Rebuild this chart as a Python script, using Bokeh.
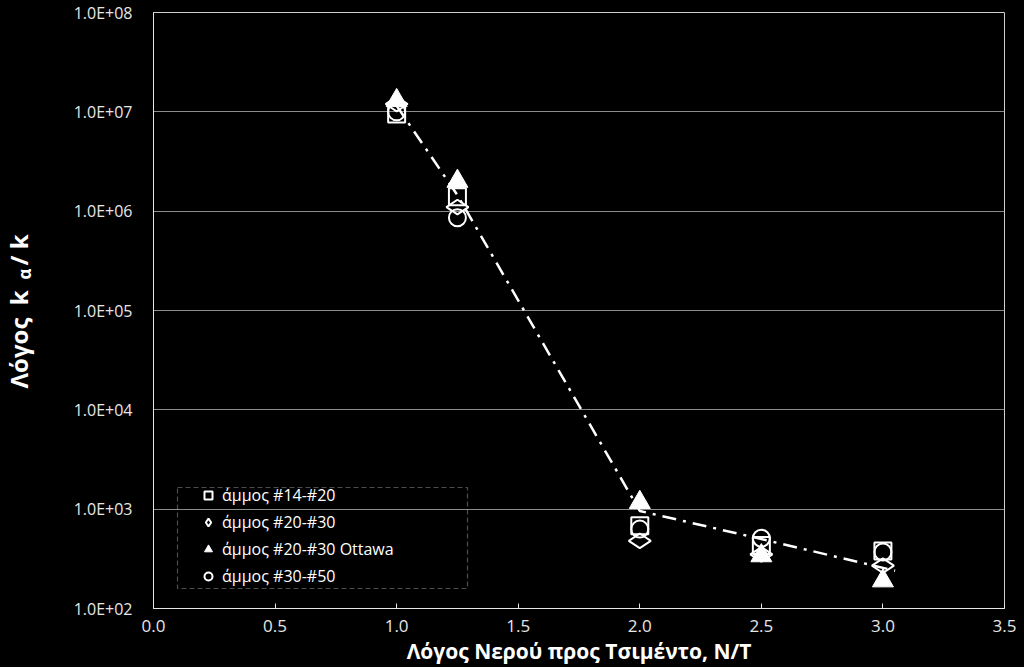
import math
from bokeh.plotting import figure
from bokeh.layouts import row
from bokeh.models import (FixedTicker, NumeralTickFormatter, Legend, LegendItem,
                          Label, BoxAnnotation, Range1d)
from bokeh.embed import file_html
from bokeh.resources import INLINE

# ---- data ----
wc_ratio = [1.0, 1.25, 2.0, 2.5, 3.0]
sand_14_20 = [9.5e6, 1.4e6, 680, 430, 380]
sand_20_30 = [1.2e7, 1.1e6, 480, 350, 270]
sand_20_30_ottawa = [1.3e7, 2.0e6, 1170, 340, 190]
sand_30_50 = [1.0e7, 8.6e5, 630, 510, 370]
fit_x = [1.0, 1.25, 2.0, 2.5, 3.05]
fit_y = [1.15e7, 1.45e6, 960, 500, 240]
series_names = ["άμμος #14-#20", "άμμος #20-#30", "άμμος #20-#30 Ottawa", "άμμος #30-#50"]
y_ticks = [100, 1000, 10000, 100000, 1000000, 10000000, 100000000]
y_tick_labels = ["1.0E+02", "1.0E+03", "1.0E+04", "1.0E+05", "1.0E+06", "1.0E+07", "1.0E+08"]
x_ticks = [0.0, 0.5, 1.0, 1.5, 2.0, 2.5, 3.0, 3.5]
x_label = "Λόγος Νερού προς Τσιμέντο, Ν/Τ"
y_label_parts = ["Λόγος\u00a0\u00a0k", "α", "/\u00a0k"]

FONT = "Open Sans"
WHITE = "#ffffff"
LGRAY = "#e6e6e6"
LAB_W = 60

# ---- narrow panel carrying the y-axis title (with subscript) ----
lab = figure(width=LAB_W, height=667, x_range=Range1d(0, 1), y_range=Range1d(0, 1),
             output_backend="svg", toolbar_location=None,
             x_axis_location=None, y_axis_location=None,
             min_border=0)
lab.outline_line_color = None
lab.grid.visible = False
lab.background_fill_color = None
lab.border_fill_color = "black"
lab_kw = dict(x_units="screen", y_units="screen", angle=math.pi / 2,
              text_color=WHITE, text_font=FONT, text_font_style="bold",
              text_align="left", text_baseline="alphabetic")
lab.add_layout(Label(x=18, y=220, text=y_label_parts[0], text_font_size="24px", **lab_kw))
lab.add_layout(Label(x=24, y=329, text=y_label_parts[1], text_font_size="17px", **lab_kw))
lab.add_layout(Label(x=18, y=343, text=y_label_parts[2], text_font_size="24px", **lab_kw))

# ---- main chart ----
p = figure(width=1024 - LAB_W, height=667, y_axis_type="log",
           x_range=Range1d(0, 3.5), y_range=Range1d(1e2, 1e8),
           output_backend="svg", toolbar_location=None,
           min_border_left=153 - LAB_W, min_border_right=20, min_border_top=12,
           min_border_bottom=50)
p.background_fill_color = "black"
p.border_fill_color = "black"
p.outline_line_color = "#d0d0d0"
p.outline_line_width = 1

p.xgrid.grid_line_color = None
p.ygrid.grid_line_color = "#8c8c8c"
p.ygrid.grid_line_width = 1

# x axis
p.xaxis.ticker = FixedTicker(ticks=x_ticks)
p.xaxis.formatter = NumeralTickFormatter(format="0.0")
p.xaxis.major_tick_in = 5
p.xaxis.major_tick_out = 0
p.xaxis.minor_tick_line_color = None
p.xaxis.major_tick_line_color = LGRAY
p.xaxis.axis_line_color = LGRAY
p.xaxis.major_label_text_color = LGRAY
p.xaxis.major_label_text_font = FONT
p.xaxis.major_label_text_font_size = "17px"
p.xaxis.major_label_standoff = 11
p.xaxis.axis_label = x_label
p.xaxis.axis_label_text_font = FONT
p.xaxis.axis_label_text_font_style = "bold"
p.xaxis.axis_label_text_font_size = "21px"
p.xaxis.axis_label_text_color = WHITE
p.xaxis.axis_label_standoff = 2

# y axis
p.yaxis.ticker = FixedTicker(ticks=y_ticks)
p.yaxis.major_label_overrides = {t: l for t, l in zip(y_ticks, y_tick_labels)}
p.yaxis.major_tick_line_color = None
p.yaxis.minor_tick_line_color = None
p.yaxis.axis_line_color = LGRAY
p.yaxis.major_label_text_color = LGRAY
p.yaxis.major_label_text_font = FONT
p.yaxis.major_label_text_font_size = "16px"
p.yaxis.major_label_standoff = 15

# fitted dash-dot line
p.line(fit_x, fit_y, line_color=WHITE, line_width=2.5, line_dash="14 7 3 7")

r1 = p.scatter(wc_ratio, sand_14_20, marker="square", size=17, fill_color=None,
               line_color=WHITE, line_width=2)
r2 = p.scatter(wc_ratio, sand_20_30, marker="diamond", size=22, angle=math.pi / 2,
               fill_color=None, line_color=WHITE, line_width=2)
r3 = p.scatter(wc_ratio, sand_20_30_ottawa, marker="triangle", size=21, fill_color=WHITE,
               line_color=WHITE, line_width=1)
r4 = p.scatter(wc_ratio, sand_30_50, marker="circle", size=17, fill_color=None,
               line_color=WHITE, line_width=2)

legend = Legend(items=[LegendItem(label=n, renderers=[r]) for n, r in
                       zip(series_names, [r1, r2, r3, r4])],
                location=(45, 21), padding=2, spacing=5, margin=0,
                glyph_width=20, glyph_height=20, label_standoff=4,
                label_text_color=WHITE, label_text_font=FONT, label_text_font_size="16px",
                background_fill_alpha=0, border_line_color=None)
p.add_layout(legend, "center")

box = BoxAnnotation(left=24, right=314, bottom=20, top=121,
                    left_units="screen", right_units="screen",
                    bottom_units="screen", top_units="screen",
                    fill_color=None, line_color=WHITE, line_width=1.2, line_dash="5 3")
p.add_layout(box)

layout = row(lab, p, spacing=0, styles={"background-color": "black"})
open("out.html", "w").write(file_html(layout, INLINE))
